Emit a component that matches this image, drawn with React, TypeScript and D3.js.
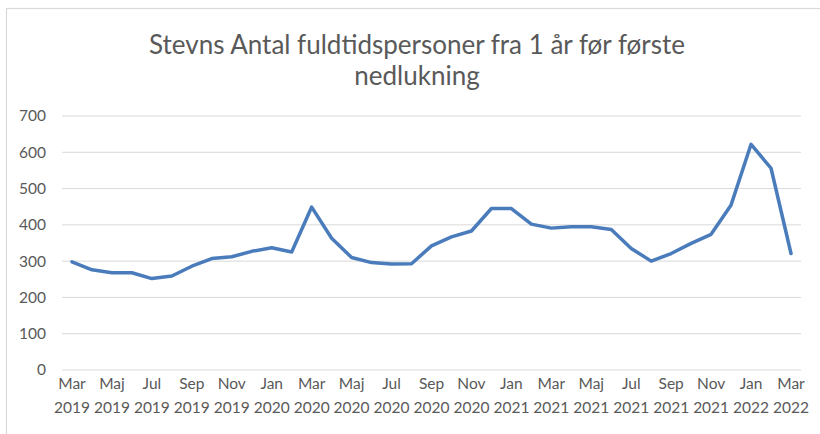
import React from "react";
import * as d3 from "d3";

const months = ["Mar","Apr","Maj","Jun","Jul","Aug","Sep","Okt","Nov","Dec","Jan","Feb"];
const startYear = 2019;
const values = [
  298, 276, 268, 268, 252, 259, 286, 307, 312, 327, 337, 325,
  449, 363, 310, 296, 292, 293, 342, 367, 383, 445, 445, 402,
  391, 395, 395, 387, 335, 300, 321, 349, 374, 455, 622, 556,
  321,
];
const yTicks = [0, 100, 200, 300, 400, 500, 600, 700];
const titleLines = ["Stevns Antal fuldtidspersoner fra 1 år før første", "nedlukning"];

const labelFor = (i: number) => {
  const m = months[i % 12];
  const monthIndex = i + 2;
  const year = startYear + Math.floor(monthIndex / 12);
  return [m, String(year)];
};

export default function App() {
  const W = 820, H = 434;
  const font = "Lato, 'Open Sans', sans-serif";
  const x = d3.scaleBand<number>().domain(values.map((_, i) => i)).range([62, 801]).padding(0);
  const cx = (i: number) => (x(i) as number) + x.bandwidth() / 2;
  const y = d3.scaleLinear().domain([0, 700]).range([370, 116]);
  const line = d3.line<number>().x((_, i) => cx(i)).y((d) => y(d)).curve(d3.curveLinear);
  const labelIdx = values.map((_, i) => i).filter((i) => i % 2 === 0);
  return (
    <svg width={W} height={H} style={{ position: "absolute", left: 0, top: 0, background: "#fff" }}>
      <rect x={6.5} y={8.5} width={W + 10} height={H + 10} fill="#fff" stroke="#d9d9d9" strokeWidth={1.2} />
      {titleLines.map((t, k) => (
        <text key={k} x={417} y={54 + k * 31} textAnchor="middle" fontFamily={font} fontSize={26} fill="#595959">
          {t}
        </text>
      ))}
      {yTicks.map((t) => (
        <g key={t}>
          <line x1={62} x2={801} y1={y(t)} y2={y(t)} stroke="#d9d9d9" strokeWidth={1} />
          <text x={46} y={y(t)} dy="0.35em" textAnchor="end" fontFamily={font} fontSize={15.5} fill="#595959">
            {t}
          </text>
        </g>
      ))}
      <path d={line(values) || ""} fill="none" stroke="#4a7cbc" strokeWidth={3.5} strokeLinejoin="round" strokeLinecap="round" />
      {labelIdx.map((i) => {
        const [m, yr] = labelFor(i);
        return (
          <text key={i} x={cx(i)} textAnchor="middle" fontFamily={font} fontSize={15.5} fill="#595959">
            <tspan x={cx(i)} y={389}>{m}</tspan>
            <tspan x={cx(i)} y={413}>{yr}</tspan>
          </text>
        );
      })}
    </svg>
  );
}
